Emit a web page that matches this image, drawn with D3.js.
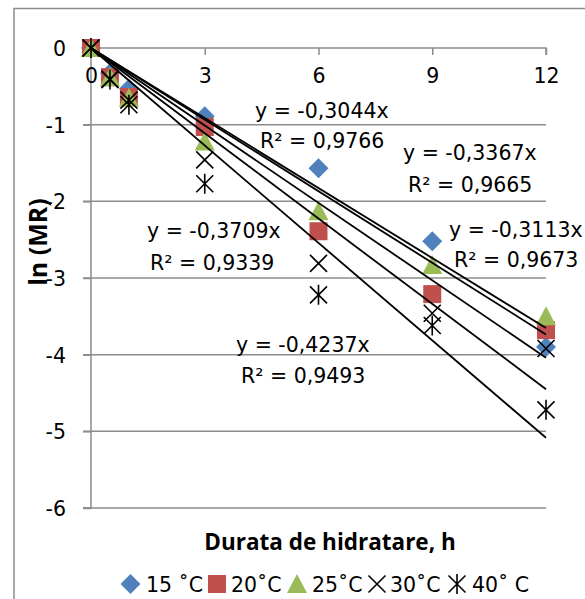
<!DOCTYPE html>
<html>
<head>
<meta charset="utf-8">
<script src="https://cdn.jsdelivr.net/npm/d3@7/dist/d3.min.js"></script>
<style>
  html, body { margin: 0; padding: 0; background: #fff; }
  svg { display: block; }
</style>
</head>
<body>
<svg id="chart" width="585" height="599"></svg>
<script>
// Hydration time (h) and ln(MR) per temperature
const hours = [0, 0.5, 1, 3, 6, 9, 12];
const series15 = [0, -0.33, -0.53, -0.89, -1.57, -2.52, -3.90];
const series20 = [0, -0.38, -0.64, -1.03, -2.39, -3.21, -3.68];
const series25 = [0, -0.38, -0.65, -1.22, -2.13, -2.83, -3.50];
const series30 = [0, -0.41, -0.68, -1.46, -2.81, -3.46, -3.92];
const series40 = [0, -0.41, -0.74, -1.77, -3.22, -3.62, -4.72];

const seriesNames = ["15 ˚C", "20˚C", "25˚C", "30˚C", "40˚ C"];
const slopes = [-0.3044, -0.3367, -0.3113, -0.3709, -0.4237];
const rSquared = ["0,9766", "0,9665", "0,9673", "0,9339", "0,9493"];

const xTicks = [0, 3, 6, 9, 12];
const yTicks = [0, -1, -2, -3, -4, -5, -6];

const svg = d3.select("#chart");
const x = d3.scaleLinear().domain([0, 12]).range([91, 546]);
const y = d3.scaleLinear().domain([-6, 0]).range([508, 48]);

const gridColor = "#8c8c8c";
const font = "'DejaVu Sans', sans-serif";
const boldFont = "'Open Sans', sans-serif";

// outer chart frame
svg.append("path")
  .attr("d", "M14,600 L14,8.5 L586,8.5")
  .attr("fill", "none").attr("stroke", gridColor).attr("stroke-width", 1.5);

// horizontal gridlines (with the short left tick)
svg.append("g").selectAll("line").data(yTicks.filter(d => d !== 0)).join("line")
  .attr("x1", 83).attr("x2", x(12))
  .attr("y1", d => y(d)).attr("y2", d => y(d))
  .attr("stroke", gridColor).attr("stroke-width", 1.5);

// y axis
const yAxis = d3.axisLeft(y).tickValues(yTicks).tickSize(8).tickPadding(17)
  .tickFormat(d => d3.format("d")(d).replace("−", "-"));
const gy = svg.append("g").attr("transform", `translate(${x(0)},0)`).call(yAxis);
gy.select(".domain").attr("stroke", gridColor).attr("stroke-width", 1.5)
  .attr("d", `M-8,${y(-6)}H0V${y(0)}H-8`);
gy.selectAll(".tick line").attr("stroke", gridColor).attr("stroke-width", 1.5);
gy.selectAll(".tick text").attr("font-family", font).attr("font-size", 20.5)
  .attr("fill", "#000").attr("dy", "0.36em");

// x axis along y = 0, ticks pointing down
const xAxis = d3.axisBottom(x).tickValues(xTicks).tickSize(7).tickPadding(20)
  .tickFormat(d3.format("d"));
const gx = svg.append("g").attr("transform", `translate(0,${y(0)})`).call(xAxis);
gx.select(".domain").attr("stroke", gridColor).attr("stroke-width", 1.5)
  .attr("d", `M${x(0)},0H${x(12)}V7`);
gx.selectAll(".tick line").attr("stroke", gridColor).attr("stroke-width", 1.5);
gx.selectAll(".tick text").attr("font-family", font).attr("font-size", 20.5)
  .attr("fill", "#000").attr("dy", "0.4em");

// marker shapes
const markerDraw = {
  diamond: (g, c) => g.append("path").attr("d", "M0,-10 L10,0 L0,10 L-10,0 Z").attr("fill", c),
  square: (g, c) => g.append("rect").attr("x", -9).attr("y", -9).attr("width", 18).attr("height", 18).attr("fill", c),
  triangle: (g, c) => g.append("path").attr("d", "M0,-10 L10,9 L-10,9 Z").attr("fill", c),
  cross: (g) => g.append("path").attr("d", "M-8.5,-8.5 L8.5,8.5 M8.5,-8.5 L-8.5,8.5")
    .attr("stroke", "#000").attr("stroke-width", 1.6).attr("fill", "none"),
  star: (g) => g.append("path").attr("d", "M-8.5,-8.5 L8.5,8.5 M8.5,-8.5 L-8.5,8.5 M0,-10 L0,10")
    .attr("stroke", "#000").attr("stroke-width", 1.6).attr("fill", "none")
};

const seriesData = [series15, series20, series25, series30, series40];
const shapes = ["diamond", "square", "triangle", "cross", "star"];
const colors = ["#4F81BD", "#C0504D", "#9BBB59", "#000", "#000"];

const pts = svg.append("g");
seriesData.forEach((vals, i) => {
  const g = pts.append("g");
  vals.forEach((v, j) => {
    const m = g.append("g").attr("transform", `translate(${x(hours[j])},${y(v)})`);
    markerDraw[shapes[i]](m, colors[i]);
  });
});

// linear trendlines through the origin
svg.append("g").selectAll("line").data(slopes).join("line")
  .attr("x1", x(0)).attr("y1", y(0))
  .attr("x2", x(12)).attr("y2", d => y(d * 12))
  .attr("stroke", "#000").attr("stroke-width", 1.8);

// trendline equations
const eqPos = [
  { x: 255, y1: 118, x2: 260, y2: 148 },
  { x: 403, y1: 160, x2: 408, y2: 192 },
  { x: 449, y1: 237, x2: 454, y2: 267 },
  { x: 147, y1: 238, x2: 150, y2: 270 },
  { x: 236, y1: 352, x2: 241, y2: 383 }
];
const eq = svg.append("g").attr("font-family", font).attr("font-size", 20.5).attr("fill", "#000");
slopes.forEach((s, i) => {
  const p = eqPos[i];
  eq.append("text").attr("x", p.x).attr("y", p.y1)
    .text(`y = ${d3.format(".4f")(s).replace("−", "-").replace(".", ",")}x`);
  eq.append("text").attr("x", p.x2).attr("y", p.y2)
    .text(`R² = ${rSquared[i]}`);
});

// axis titles
svg.append("text").attr("x", 330).attr("y", 550).attr("text-anchor", "middle")
  .attr("font-family", boldFont).attr("font-weight", "bold").attr("font-size", 22.5)
  .text("Durata de hidratare, h");
svg.append("text").attr("transform", "translate(47,242) rotate(-90)").attr("text-anchor", "middle")
  .attr("font-family", boldFont).attr("font-weight", "bold").attr("font-size", 25)
  .text("ln (MR)");

// legend
const legendItems = [
  { mx: 130.5, tx: 146 },
  { mx: 217, tx: 231 },
  { mx: 297, tx: 312 },
  { mx: 377, tx: 390 },
  { mx: 457, tx: 472 }
];
const lg = svg.append("g");
seriesNames.forEach((name, i) => {
  const it = legendItems[i];
  const m = lg.append("g").attr("transform", `translate(${it.mx},584)`);
  markerDraw[shapes[i]](m, colors[i]);
  lg.append("text").attr("x", it.tx).attr("y", 592)
    .attr("font-family", font).attr("font-size", 20.5).text(name);
});
</script>
</body>
</html>
